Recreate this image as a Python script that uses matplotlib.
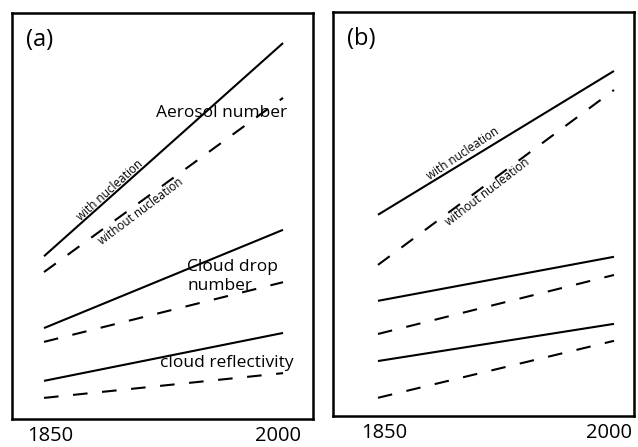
import matplotlib
matplotlib.use("Agg")
import matplotlib.pyplot as plt
import matplotlib.transforms as mtransforms

plt.rcParams['font.family'] = ['Open Sans', 'DejaVu Sans']

# years at the ends of every line
years = [1850, 2000]

# panel (a): arbitrary units
a_aer_with = [40.1, 92.6]
a_aer_without = [36.2, 79.1]
a_cdn_with = [22.4, 46.6]
a_cdn_without = [19.0, 33.7]
a_refl_with = [9.4, 21.2]
a_refl_without = [5.2, 11.3]

# panel (b)
b_aer_with = [49.8, 85.4]
b_aer_without = [37.4, 80.7]
b_cdn_with = [28.5, 39.4]
b_cdn_without = [20.3, 34.9]
b_refl_with = [13.6, 22.8]
b_refl_without = [4.5, 18.6]

tick_labels = ['1850', '2000']

LW = 1.5
DASH = (7, 7)


def draw_pair(ax, solid, dashed):
    ax.plot(years, solid, c='k', lw=LW, solid_capstyle='butt')
    ax.plot(years, dashed, c='k', lw=LW, dashes=DASH, dash_capstyle='butt')


def setup(ax, fig, label, xlim):
    ax.set_xlim(xlim)
    ax.set_ylim(0, 100)
    ax.set_yticks([])
    ax.set_xticks(years)
    ax.set_xticklabels(tick_labels, fontsize=14.5)
    ax.tick_params(axis='x', length=0, pad=5)
    for sp in ax.spines.values():
        sp.set_linewidth(1.8)
    # nudge the year labels a bit inwards like in the original
    for t, dx in zip(ax.get_xticklabels(), [6, -5]):
        off = mtransforms.ScaledTranslation(dx / 100, 0, fig.dpi_scale_trans)
        t.set_transform(t.get_transform() + off)
    ax.text(0.093, 0.933, label, transform=ax.transAxes, fontsize=17,
            ha='center', va='center')


fig = plt.figure(figsize=(6.38, 4.47), dpi=100)
ax1 = fig.add_axes([0.0188, 0.0626, 0.4718, 0.9083])
ax2 = fig.add_axes([0.5219, 0.0694, 0.4718, 0.9038])

# panel (a)
draw_pair(ax1, a_aer_with, a_aer_without)
draw_pair(ax1, a_cdn_with, a_cdn_without)
draw_pair(ax1, a_refl_with, a_refl_without)
setup(ax1, fig, '(a)', (1829.9, 2018.8))
ax1.text(1961.7, 75.4, 'Aerosol number', fontsize=12.5, ha='center', va='center')
ax1.text(1939.8, 35.1, 'Cloud drop\nnumber', fontsize=12.5, ha='left', va='center',
         linespacing=1.3)
ax1.text(1964.9, 13.8, 'cloud reflectivity', fontsize=12.5, ha='center', va='center')
ax1.text(1891.4, 56.4, 'with nucleation', fontsize=8.5, ha='center', va='center',
         rotation=42, rotation_mode='anchor')
ax1.text(1910.9, 51.2, 'without nucleation', fontsize=8.5, ha='center', va='center',
         rotation=37, rotation_mode='anchor')

# panel (b)
draw_pair(ax2, b_aer_with, b_aer_without)
draw_pair(ax2, b_cdn_with, b_cdn_without)
draw_pair(ax2, b_refl_with, b_refl_without)
setup(ax2, fig, '(b)', (1821.4, 2012.7))
ax2.text(1904.0, 64.9, 'with nucleation', fontsize=8.5, ha='center', va='center',
         rotation=34, rotation_mode='anchor')
ax2.text(1919.9, 55.4, 'without nucleation', fontsize=8.5, ha='center', va='center',
         rotation=37.6, rotation_mode='anchor')

fig.savefig('out.png', dpi=100)
